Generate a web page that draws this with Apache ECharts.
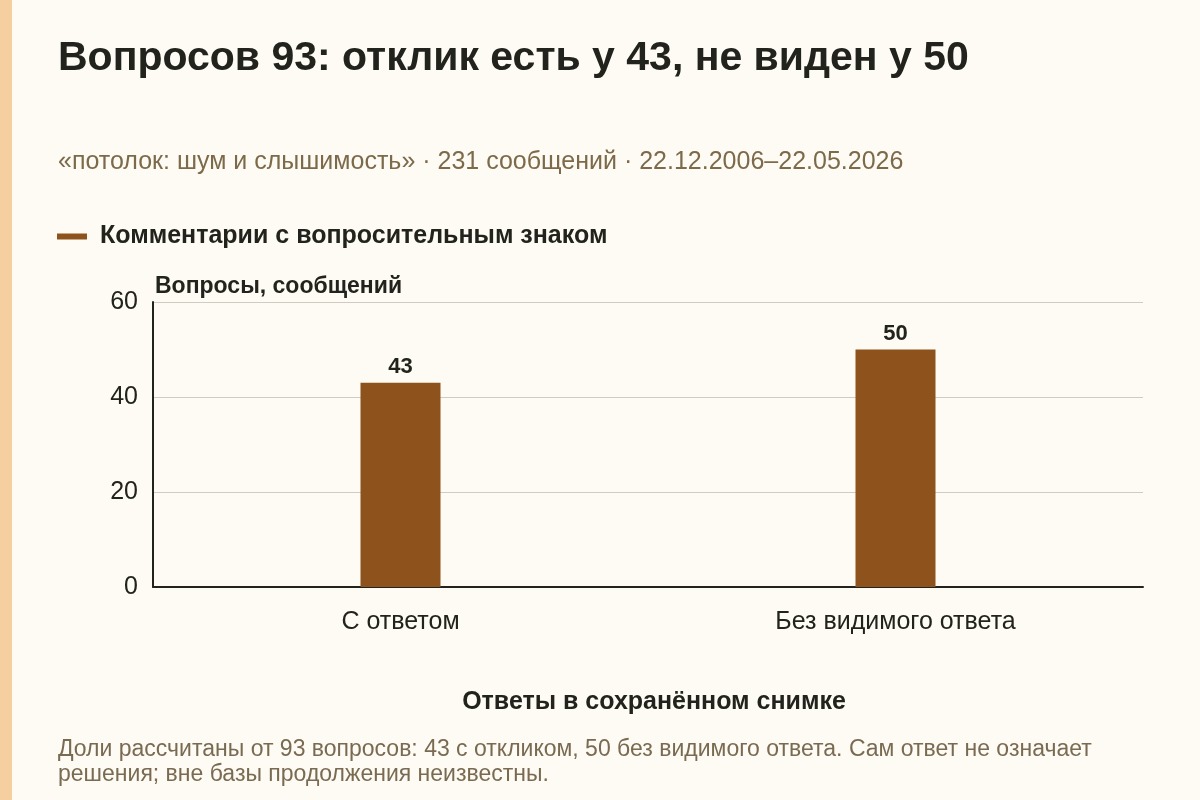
<!DOCTYPE html>
<html>
<head>
<meta charset="utf-8">
<script src="https://cdn.jsdelivr.net/npm/echarts@6/dist/echarts.min.js"></script>
<style>
  html, body { margin: 0; padding: 0; background: #fdfbf3; }
  #chart { width: 1200px; height: 800px; }
</style>
</head>
<body>
<div id="chart"></div>
<script>
// данные
const categories = ['С ответом', 'Без видимого ответа'];
const questions = [43, 50];
const yTicks = [0, 20, 40, 60];

const FONT = '"Liberation Sans", Arial, sans-serif';
const BAR = '#8e531c';
const INK = '#22231c';

const chart = echarts.init(document.getElementById('chart'));

chart.setOption({
    backgroundColor: '#fdfbf3',
    textStyle: { fontFamily: FONT },
    graphic: [
        { type: 'rect', left: 0, top: 0, shape: { width: 12, height: 800 }, style: { fill: '#f5cf9f' } }
    ],
    title: [
        {
            text: 'Вопросов 93: отклик есть у 43, не виден у 50',
            left: 53, top: 33,
            textStyle: { fontFamily: FONT, fontSize: 41, fontWeight: 'bold', color: INK }
        },
        {
            text: '«потолок: шум и слышимость» · 231 сообщений · 22.12.2006–22.05.2026',
            left: 53, top: 145,
            textStyle: { fontFamily: FONT, fontSize: 25, fontWeight: 'normal', color: '#7d6a4a' }
        },
        {
            text: 'Ответы в сохранённом снимке',
            left: 649, top: 685, textAlign: 'center',
            textStyle: { fontFamily: FONT, fontSize: 25, fontWeight: 'bold', color: INK }
        },
        {
            text: 'Доли рассчитаны от 93 вопросов: 43 с откликом, 50 без видимого ответа. Сам ответ не означает\nрешения; вне базы продолжения неизвестны.',
            left: 53, top: 732,
            textStyle: { fontFamily: FONT, fontSize: 23, fontWeight: 'normal', color: '#7a6a52', lineHeight: 25 }
        }
    ],
    legend: {
        left: 52, top: 219,
        icon: 'rect',
        itemWidth: 30, itemHeight: 6,
        data: ['Комментарии с вопросительным знаком'],
        textStyle: { fontFamily: FONT, fontSize: 25, fontWeight: 'bold', color: INK, padding: [0, 0, 0, 8] }
    },
    grid: { left: 153, right: 57, top: 302, bottom: 213, containLabel: false },
    xAxis: {
        type: 'category',
        data: categories,
        axisLine: { lineStyle: { color: INK, width: 2 } },
        axisTick: { alignWithLabel: true, length: 6, lineStyle: { color: INK } },
        axisLabel: { fontFamily: FONT, fontSize: 25, color: INK, margin: 23 }
    },
    yAxis: {
        type: 'value',
        min: yTicks[0], max: yTicks[yTicks.length - 1], interval: 20,
        name: 'Вопросы, сообщений',
        nameLocation: 'end',
        nameGap: 4,
        nameTextStyle: { fontFamily: FONT, fontSize: 23, fontWeight: 'bold', color: INK, align: 'left', padding: [0, 0, 0, 2] },
        axisLine: { show: true, lineStyle: { color: INK, width: 2 } },
        axisTick: { show: false },
        axisLabel: { fontFamily: FONT, fontSize: 25, color: INK, margin: 15 },
        splitLine: { lineStyle: { color: '#d0ccc4', width: 1 } }
    },
    series: [{
        name: 'Комментарии с вопросительным знаком',
        type: 'bar',
        data: questions,
        barWidth: 80,
        itemStyle: { color: BAR },
        label: {
            show: true, position: 'top', distance: 5,
            fontFamily: FONT, fontSize: 22, fontWeight: 'bold', color: INK
        }
    }]
});
</script>
</body>
</html>
